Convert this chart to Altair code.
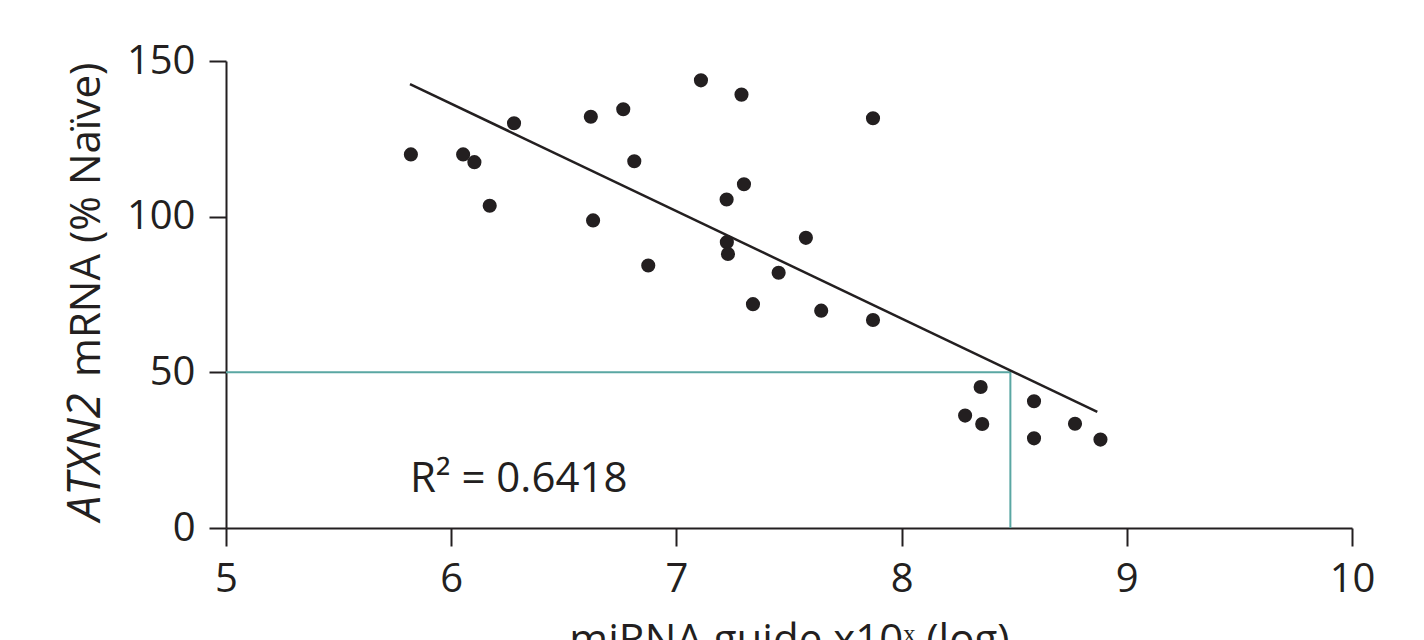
import altair as alt
import pandas as pd

# ---- data ----
x_vals = [5.821, 6.053, 6.103, 6.171, 6.279, 6.620, 6.764, 7.109, 7.289, 6.813,
          6.630, 7.300, 7.223, 7.224, 7.229, 6.875, 7.454, 7.575, 7.340, 7.643,
          7.873, 7.873, 8.351, 8.282, 8.358, 8.588, 8.588, 8.770, 8.883]
y_vals = [120.0, 120.0, 117.5, 103.5, 130.0, 132.1, 134.5, 143.8, 139.2, 117.8,
          98.8, 110.4, 105.5, 91.8, 88.0, 84.3, 82.0, 93.2, 71.9, 69.8,
          66.8, 131.6, 45.3, 36.1, 33.4, 40.7, 28.8, 33.5, 28.4]
fit_x = [5.817, 8.869]
fit_y = [142.6, 37.3]
ref_x = [5.0, 8.483, 8.483]
ref_y = [50.0, 50.0, 0.0]
x_ticks = [5, 6, 7, 8, 9, 10]
y_ticks = [0, 50, 100, 150]
r2_label = ["R² = 0.6418"]
r2_pos_x = [5.817]
r2_pos_y = [11.6]
x_title = "miRNA guide x10ˣ (log)"
y_title_italic = ["ATXN2"]
y_title_rest = ["mRNA (% Naïve)"]

INK = "#231f20"
TEAL = "#5aa7a3"
FONT = "Open Sans"

pts = pd.DataFrame({"x": x_vals, "y": y_vals})
fit = pd.DataFrame({"x": fit_x, "y": fit_y})
ref = pd.DataFrame({"x": ref_x, "y": ref_y, "o": list(range(len(ref_x)))})
r2 = pd.DataFrame({"x": r2_pos_x, "y": r2_pos_y, "t": r2_label})

xscale = alt.Scale(domain=[5, 10], nice=False, zero=False)
yscale = alt.Scale(domain=[0, 150], nice=False, zero=False)

xaxis = alt.Axis(values=x_ticks, format="d", grid=False, domainColor=INK, domainWidth=2,
                 tickColor=INK, tickWidth=2, tickSize=18,
                 labelFont=FONT, labelFontSize=40, labelColor=INK, labelPadding=13,
                 labelFlush=False, labelOverlap=False,
                 title=x_title, titleFont=FONT, titleFontSize=42,
                 titleFontWeight="normal", titleColor=INK, titleY=92,
                 titleBaseline="top")
yaxis = alt.Axis(values=y_ticks, format="d", grid=False, domainColor=INK, domainWidth=2,
                 tickColor=INK, tickWidth=2, tickSize=17,
                 labelFont=FONT, labelFontSize=40, labelColor=INK, labelPadding=14,
                 labelFlush=False, labelOverlap=False, title=None)

X = alt.X("x:Q", scale=xscale, axis=xaxis)
Y = alt.Y("y:Q", scale=yscale, axis=yaxis)

ref_layer = alt.Chart(ref).mark_line(color=TEAL, strokeWidth=2).encode(
    x=alt.X("x:Q", scale=xscale), y=alt.Y("y:Q", scale=yscale), order="o:Q")
fit_layer = alt.Chart(fit).mark_line(color=INK, strokeWidth=2.5).encode(
    x=alt.X("x:Q", scale=xscale), y=alt.Y("y:Q", scale=yscale))
pt_layer = alt.Chart(pts).mark_circle(color=INK, opacity=1, size=200).encode(x=X, y=Y)
r2_layer = alt.Chart(r2).mark_text(align="left", baseline="alphabetic", font=FONT,
                                   fontSize=42, color=INK).encode(
    x=alt.X("x:Q", scale=xscale), y=alt.Y("y:Q", scale=yscale), text="t:N")

yt1 = alt.Chart(pd.DataFrame({"t": y_title_italic})).mark_text(
    angle=270, align="left", baseline="alphabetic", font=FONT, fontSize=45,
    fontStyle="italic", color=INK).encode(
    x=alt.value(-126), y=alt.value(460), text="t:N")
yt2 = alt.Chart(pd.DataFrame({"t": y_title_rest})).mark_text(
    angle=270, align="left", baseline="alphabetic", font=FONT, fontSize=42,
    color=INK).encode(
    x=alt.value(-126), y=alt.value(316), text="t:N")

chart = alt.layer(ref_layer, fit_layer, pt_layer, r2_layer, yt1, yt2).properties(
    width=1126, height=467,
    autosize=alt.AutoSizeParams(type="none"),
    padding={"left": 226, "top": 61, "right": 72, "bottom": 112},
    background="white",
).configure_view(stroke=None)

chart.save("out.html", embed_options={"renderer": "svg", "actions": False})
